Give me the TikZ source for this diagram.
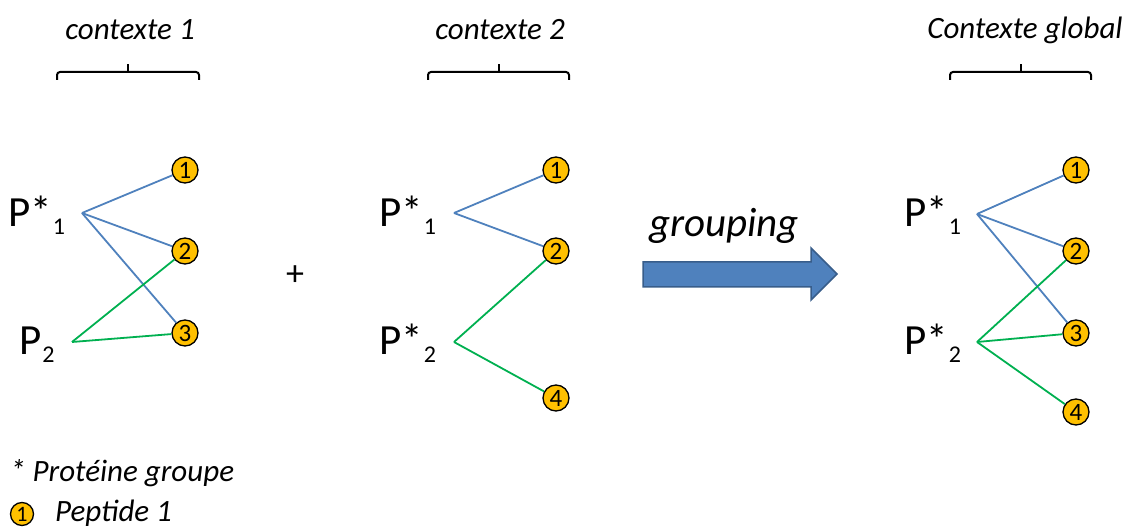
\documentclass[tikz,border=0pt]{standalone}
\usepackage{fontspec}
\setmainfont{Carlito}
\usepackage{tikz}
\usetikzlibrary{positioning}
\definecolor{lienbleu}{HTML}{4F81BD}
\definecolor{lienvert}{HTML}{00B050}
\definecolor{jaune}{HTML}{FFC000}
\definecolor{flechebord}{HTML}{385D8A}
\newcommand{\Prot}[2]{P#1\kern1pt\raisebox{-8pt}{\fontsize{24}{24}\selectfont #2}}

\begin{document}
\begin{tikzpicture}[x=1pt, y=-1pt,
		pept/.style={circle, draw=black, line width=1.3pt, fill=jaune, inner sep=0pt, minimum size=26pt, font=\fontsize{25}{25}\selectfont},
		prot/.style={anchor=base west, inner sep=0pt, font=\fontsize{43}{43}\selectfont},
		titre/.style={inner sep=0pt, font=\fontsize{31}{31}\selectfont\itshape},
		accolade/.style={line width=2pt, rounded corners=3pt},
		bleu/.style={draw=lienbleu, line width=1.8pt},
		vert/.style={draw=lienvert, line width=1.8pt}]
		\useasboundingbox (0,0) rectangle (1128,529);
		% contexte 1
		\node[titre] (T1) at (130,30) {contexte 1};
		\draw[accolade] (57,80) -- (57,72) -- (199,72) -- (199,80);
		\draw[accolade] (128,72) -- (128,64);
		\node[prot] (A1) at (8,227) {\Prot{*}{1}};
		\node[prot] (B1) at (19,355) {\Prot{}{2}};
		\coordinate (a1) at (82,213);
		\coordinate (b1) at (72,342);
		\node[pept] (p11) at (185,170) {1};
		\node[pept] (p12) at (185,251) {2};
		\node[pept] (p13) at (185,333) {3};
		\draw[bleu] (a1) -- (p11);
		\draw[bleu] (a1) -- (p12);
		\draw[bleu] (a1) -- (p13);
		\draw[vert] (b1) -- (p12);
		\draw[vert] (b1) -- (p13);
		\node[font=\fontsize{36}{36}\selectfont] (plus) at (295,276) {+};
		% contexte 2
		\node[titre] (T2) at (500,30) {contexte 2};
		\draw[accolade] (428,80) -- (428,72) -- (569,72) -- (569,80);
		\draw[accolade] (499,72) -- (499,64);
		\node[prot] (A2) at (379,227) {\Prot{*}{1}};
		\node[prot] (B2) at (379,355) {\Prot{*}{2}};
		\coordinate (a2) at (454,213);
		\coordinate (b2) at (454,342);
		\node[pept] (p21) at (556,170) {1};
		\node[pept] (p22) at (556,251) {2};
		\node[pept] (p24) at (556,398) {4};
		\draw[bleu] (a2) -- (p21);
		\draw[bleu] (a2) -- (p22);
		\draw[vert] (b2) -- (p22);
		\draw[vert] (b2) -- (p24);
		% grouping
		\draw[line width=1.5pt, draw=flechebord, fill=lienbleu] (643,262) -- (811,262) -- (811,248) -- (837,274) -- (811,300) -- (811,287) -- (643,287) -- cycle;
		\node[titre, anchor=base, font=\fontsize{41}{41}\selectfont\itshape] (grp) at (724,237) {grouping};
		% contexte global
		\node[titre] (T3) at (1025,30) {Contexte global};
		\draw[accolade] (950,80) -- (950,72) -- (1091,72) -- (1091,80);
		\draw[accolade] (1021,72) -- (1021,64);
		\node[prot] (A3) at (904,227) {\Prot{*}{1}};
		\node[prot] (B3) at (904,355) {\Prot{*}{2}};
		\coordinate (a3) at (977,214);
		\coordinate (b3) at (977,342);
		\node[pept] (p31) at (1076,170) {1};
		\node[pept] (p32) at (1076,251) {2};
		\node[pept] (p33) at (1076,333) {3};
		\node[pept] (p34) at (1076,412) {4};
		\draw[bleu] (a3) -- (p31);
		\draw[bleu] (a3) -- (p32);
		\draw[bleu] (a3) -- (p33);
		\draw[vert] (b3) -- (p32);
		\draw[vert] (b3) -- (p33);
		\draw[vert] (b3) -- (p34);
		% legende
		\node[titre, anchor=base west] (L0) at (10,481) {* Protéine groupe};
		\node[pept, minimum size=23pt, font=\fontsize{22}{22}\selectfont] (L1) at (22,514) {1};
		\node[titre, anchor=base west] (L2) at (55,521) {Peptide 1};
	\end{tikzpicture}
\end{document}
